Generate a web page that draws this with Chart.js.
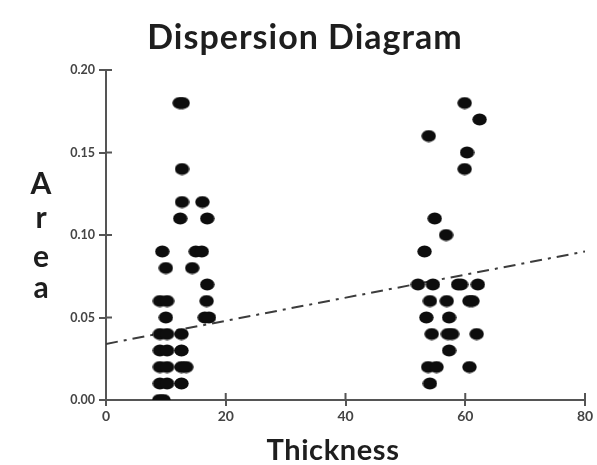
<!DOCTYPE html>
<html>
<head>
<meta charset="utf-8">
<script src="https://cdn.jsdelivr.net/npm/chart.js@4.4.1/dist/chart.umd.min.js"></script>
<style>
  html, body { margin: 0; padding: 0; background: #fff; }
  #wrap { width: 597px; height: 465px; }
</style>
</head>
<body>
<div id="wrap"><canvas id="chart1"></canvas></div>
<script>
// thin (left) cluster
const thinX = [12.3, 12.8, 12.7, 12.7, 16.1, 12.4, 16.9, 9.4, 15.0, 16.0, 10.0, 14.4,
  16.9, 16.8, 9.0, 10.2, 10.0, 16.5, 17.2,
  9.0, 10.2, 12.6, 9.0, 10.2, 12.6, 9.0, 10.2, 12.6, 13.4, 9.0, 10.2, 12.6, 8.9, 9.6];
const thinY = [0.18, 0.18, 0.14, 0.12, 0.12, 0.11, 0.11, 0.09, 0.09, 0.09, 0.08, 0.08,
  0.07, 0.06, 0.06, 0.06, 0.05, 0.05, 0.05,
  0.04, 0.04, 0.04, 0.03, 0.03, 0.03, 0.02, 0.02, 0.02, 0.02, 0.01, 0.01, 0.01, 0.00, 0.00];

// thick (right) cluster
const thickX = [59.9, 62.4, 53.9, 60.3, 59.9, 54.9, 56.8, 53.2,
  52.1, 54.6, 58.8, 59.3, 62.1, 54.1, 56.9, 60.7, 61.2, 53.5, 57.3,
  54.4, 57.1, 57.8, 61.9, 57.3, 53.8, 55.2, 60.7, 54.1];
const thickY = [0.18, 0.17, 0.16, 0.15, 0.14, 0.11, 0.10, 0.09,
  0.07, 0.07, 0.07, 0.07, 0.07, 0.06, 0.06, 0.06, 0.06, 0.05, 0.05,
  0.04, 0.04, 0.04, 0.04, 0.03, 0.02, 0.02, 0.02, 0.01];

// trend line
const trendX = [0, 80];
const trendY = [0.034, 0.090];

const xTicks = [0, 20, 40, 60, 80];
const yTicks = [0, 0.05, 0.10, 0.15, 0.20];

const chartTitle = 'Dispersion Diagram';
const xTitle = 'Thickness';
const yTitle = ['A', 'r', 'e', 'a'];

const toPoints = (xs, ys) => xs.map((x, i) => ({ x: x, y: ys[i] }));

// slightly flattened dot like the original
const dot = document.createElement('canvas');
dot.width = 15; dot.height = 13;
const dctx = dot.getContext('2d');
dctx.fillStyle = '#0d0d0d';
dctx.beginPath();
dctx.ellipse(7.5, 6.5, 7.2, 6.0, 0, 0, Math.PI * 2);
dctx.fill();

const FONT = 'Lato, "Open Sans", sans-serif';
const AXIS = '#555';

// titles drawn by hand (stacked y letters, off-centre main title)
const titles = {
  id: 'titles',
  afterDraw(chart) {
    const c = chart.ctx;
    c.save();
    c.fillStyle = '#1e1e1e';
    c.textAlign = 'center';
    c.textBaseline = 'alphabetic';
    c.font = 'bold 34px ' + FONT;
    c.letterSpacing = '1px';
    c.fillText(chartTitle, 305, 49);
    c.font = 'bold 29px ' + FONT;
    c.letterSpacing = '0.6px';
    c.fillText(xTitle, 333, 460);
    c.font = 'bold 30px ' + FONT;
    c.letterSpacing = '0px';
    const base = [194, 228, 267, 298];
    yTitle.forEach((l, i) => c.fillText(l, 41, base[i]));
    c.restore();
  }
};

// tick marks cross the axis line in the original
const innerTicks = {
  id: 'innerTicks',
  afterDraw(chart) {
    const c = chart.ctx;
    const xs = chart.scales.x, ys = chart.scales.y;
    const a = chart.chartArea;
    c.save();
    c.strokeStyle = AXIS;
    c.lineWidth = 2;
    c.beginPath();
    xTicks.forEach(v => {
      const px = xs.getPixelForValue(v);
      c.moveTo(px, a.bottom);
      c.lineTo(px, a.bottom - 7);
    });
    yTicks.forEach(v => {
      const py = ys.getPixelForValue(v);
      c.moveTo(a.left, py);
      c.lineTo(a.left + 6, py);
    });
    c.stroke();
    c.restore();
  }
};

const ctx = document.getElementById('chart1').getContext('2d');
new Chart(ctx, {
  type: 'scatter',
  data: {
    datasets: [
      {
        label: 'thin',
        data: toPoints(thinX, thinY),
        pointStyle: dot,
        order: 1
      },
      {
        label: 'thick',
        data: toPoints(thickX, thickY),
        pointStyle: dot,
        order: 1
      },
      {
        label: 'trend',
        type: 'line',
        data: toPoints(trendX, trendY),
        borderColor: '#3c3c3c',
        borderWidth: 2,
        borderDash: [12, 6, 3, 6],
        pointRadius: 0,
        fill: false,
        order: 2
      }
    ]
  },
  options: {
    responsive: true,
    maintainAspectRatio: false,
    animation: false,
    layout: { padding: { left: 0, right: 12, top: 70, bottom: 0 } },
    plugins: {
      legend: { display: false },
      tooltip: { enabled: false },
      title: { display: false }
    },
    scales: {
      x: {
        type: 'linear',
        min: 0,
        max: 80,
        afterBuildTicks: (s) => { s.ticks = xTicks.map(v => ({ value: v })); },
        afterFit: (s) => { s.height = 65; },
        ticks: { color: '#444', font: { family: FONT, size: 14, weight: 'bold' }, padding: 2 },
        grid: { drawOnChartArea: false, color: AXIS, tickLength: 6, lineWidth: 2 },
        border: { color: AXIS, width: 2 }
      },
      y: {
        type: 'linear',
        min: 0,
        max: 0.2,
        afterBuildTicks: (s) => { s.ticks = yTicks.map(v => ({ value: v })); },
        afterFit: (s) => { s.width = 106; },
        ticks: {
          color: '#444',
          font: { family: FONT, size: 12.5, weight: 'bold' },
          padding: 4,
          callback: (v) => Number(v).toFixed(2)
        },
        grid: { drawOnChartArea: false, color: AXIS, tickLength: 7, lineWidth: 2 },
        border: { color: AXIS, width: 2 }
      }
    }
  },
  plugins: [titles, innerTicks]
});
</script>
</body>
</html>
